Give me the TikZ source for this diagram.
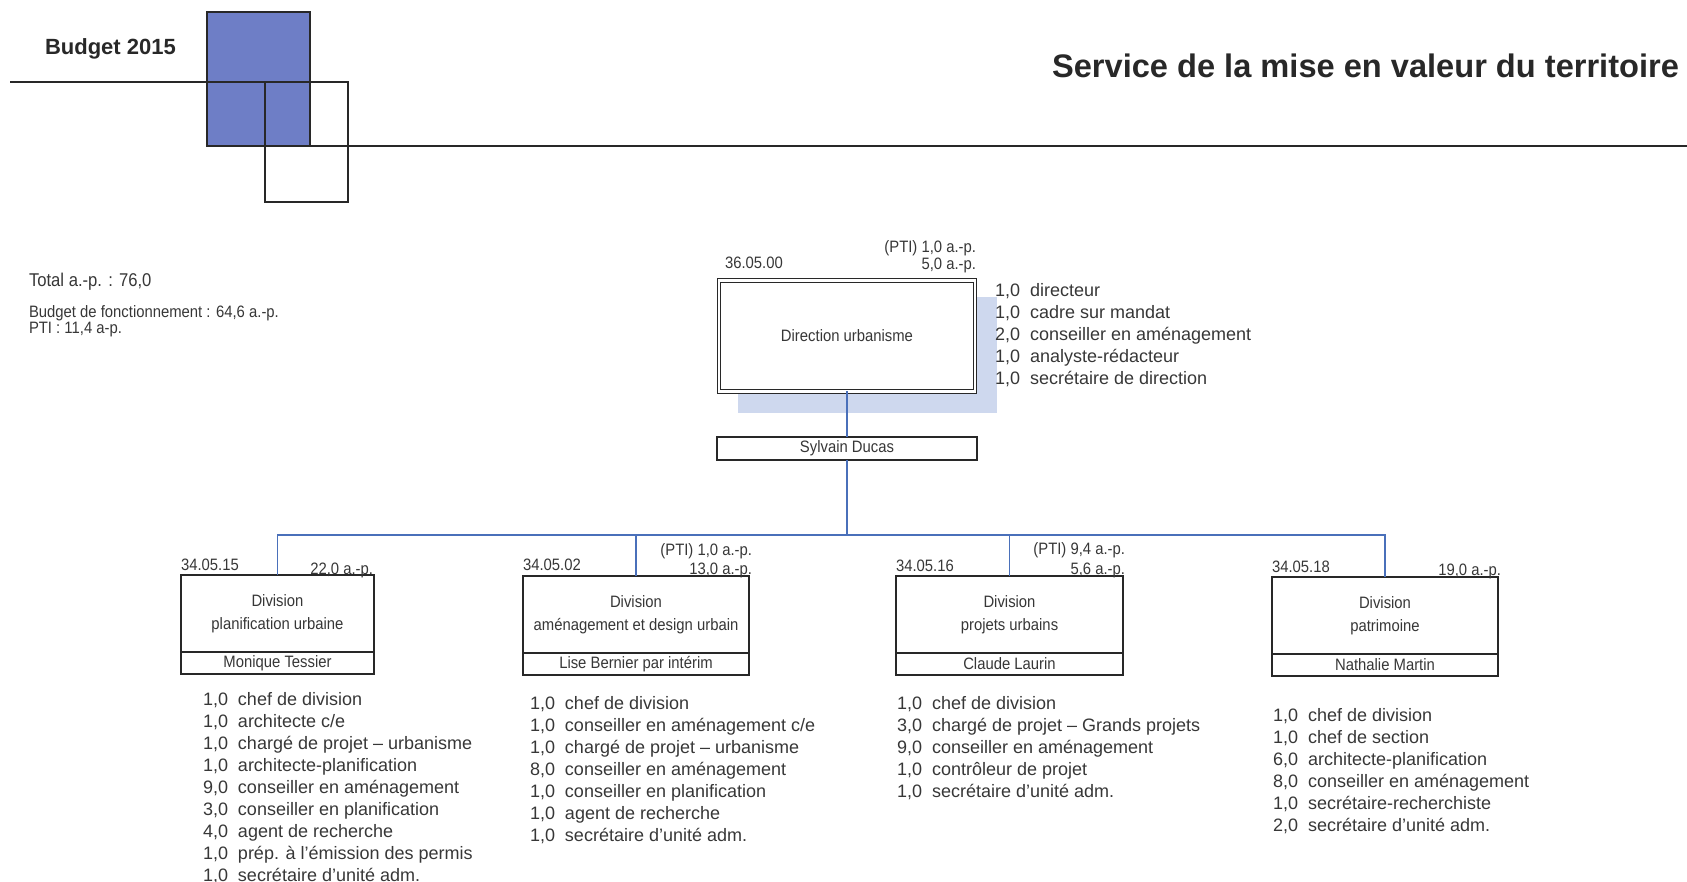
\documentclass[tikz,border=0pt]{standalone}
\usepackage{fontspec}
\setmainfont{Liberation Sans}
\newfontfamily\narrowfont[FakeStretch=0.9]{Liberation Sans}
\definecolor{hdrblue}{RGB}{110,126,198}
\definecolor{connblue}{RGB}{74,112,186}
\definecolor{shadowblue}{RGB}{206,216,238}
\definecolor{boxline}{RGB}{40,40,40}
\definecolor{txt}{RGB}{55,55,55}
\newcommand\nb[1]{\makebox[35pt][l]{#1}}
\begin{document}
\begin{tikzpicture}[x=1pt,y=-1pt,
  every node/.style={inner sep=0pt, outer sep=0pt},
  hdrline/.style={draw=boxline, line width=1.6pt},
  conn/.style={draw=connblue, line width=1.4pt},
  dirbox/.style={draw=boxline, line width=1.2pt, double=white, double distance=2.2pt, fill=white,
    minimum width=256, minimum height=111, font=\narrowfont\fontsize{16.5}{20}\selectfont, text=txt},
  namebox/.style={draw=boxline, line width=1.4pt, fill=white, font=\narrowfont\fontsize{16.5}{20}\selectfont, text=txt},
  divbox/.style={draw=boxline, line width=1.4pt, fill=white, minimum height=77, align=center,
    font=\narrowfont\fontsize{16.5}{23}\selectfont, text=txt},
  code/.style={font=\narrowfont\fontsize{16.5}{19}\selectfont, text=txt},
  stafflist/.style={anchor=base west, font=\fontsize{18}{22}\selectfont, text=txt}]
\useasboundingbox (0,0) rectangle (1687,882);

% header decoration
\fill[hdrblue] (207,12) rectangle (310,146);
\draw[hdrline] (207,12) rectangle (310,146);
\draw[hdrline] (265,82) rectangle (348,202);
\draw[hdrline] (10,82) -- (265,82);
\draw[hdrline] (310,146) -- (1687,146);
\node[anchor=base west, font=\bfseries\fontsize{22}{26}\selectfont, text=boxline] (budget) at (45,55) {Budget 2015};
\node[anchor=base east, font=\bfseries\fontsize{32.6}{38}\selectfont, text=boxline] (title) at (1679,78) {Service de la mise en valeur du territoire};

% summary
\node[anchor=base west, font=\narrowfont\fontsize{18.5}{22}\selectfont, text=txt] (tot) at (29,287) {Total a.-p. : 76,0};
\node[anchor=base west, code] (bf) at (29,318) {Budget de fonctionnement : 64,6 a.-p.};
\node[anchor=base west, code] (pti) at (29,334) {PTI : 11,4 a-p.};

% direction
\fill[shadowblue] (738,297) rectangle (997,413);
\node[dirbox] (dir) at (847,336) {Direction urbanisme};
\node[namebox, minimum width=260, minimum height=23] (sylvain) at (847,448.5) {Sylvain Ducas};
\node[code, anchor=base west] (c0) at (725,269) {36.05.00};
\node[code, anchor=base east] (p0) at (976,253) {(PTI) 1,0 a.-p.};
\node[code, anchor=base east] (a0) at (976,269.5) {5,0 a.-p.};
\node[stafflist] (ldir) at (995,296.5) {\begin{tabular}[t]{@{}l@{}}
\nb{1,0}directeur\\
\nb{1,0}cadre sur mandat\\
\nb{2,0}conseiller en aménagement\\
\nb{1,0}analyste-rédacteur\\
\nb{1,0}secrétaire de direction
\end{tabular}};

% divisions
\node[divbox, minimum width=193] (d1) at (277.5,613.5) {Division\\planification urbaine};
\node[namebox, minimum width=193, minimum height=22, anchor=north] (n1) at (d1.south) {Monique Tessier};
\node[divbox, minimum width=226] (d2) at (636,614.5) {Division\\aménagement et design urbain};
\node[namebox, minimum width=226, minimum height=22, anchor=north] (n2) at (d2.south) {Lise Bernier par intérim};
\node[divbox, minimum width=227] (d3) at (1009.5,614.5) {Division\\projets urbains};
\node[namebox, minimum width=227, minimum height=22, anchor=north] (n3) at (d3.south) {Claude Laurin};
\node[divbox, minimum width=226] (d4) at (1385,615.5) {Division\\patrimoine};
\node[namebox, minimum width=226, minimum height=22, anchor=north] (n4) at (d4.south) {Nathalie Martin};

% connectors
\coordinate (bus) at (847,535);
\draw[conn] (dir.south) -- (sylvain.north);
\draw[conn] (sylvain.south) -- (bus);
\draw[conn] (d1.north) |- (bus) -| (d4.north);
\draw[conn] (d2.north) -- (d2.north |- bus);
\draw[conn] (d3.north) -- (d3.north |- bus);

% division labels
\node[code, anchor=base west] (c1) at (181,570) {34.05.15};
\node[code, anchor=base east] (a1) at (373,574) {22,0 a.-p.};
\node[code, anchor=base west] (c2) at (523,570) {34.05.02};
\node[code, anchor=base east] (p2) at (752,555) {(PTI) 1,0 a.-p.};
\node[code, anchor=base east] (a2) at (752,574.5) {13,0 a.-p.};
\node[code, anchor=base west] (c3) at (896,571) {34.05.16};
\node[code, anchor=base east] (p3) at (1125,554) {(PTI) 9,4 a.-p.};
\node[code, anchor=base east] (a3) at (1125,574.5) {5,6 a.-p.};
\node[code, anchor=base west] (c4) at (1272,572) {34.05.18};
\node[code, anchor=base east] (a4) at (1501,575) {19,0 a.-p.};

% staff lists
\node[stafflist] (l1) at (203,705) {\begin{tabular}[t]{@{}l@{}}
\nb{1,0}chef de division\\
\nb{1,0}architecte c/e\\
\nb{1,0}chargé de projet – urbanisme\\
\nb{1,0}architecte-planification\\
\nb{9,0}conseiller en aménagement\\
\nb{3,0}conseiller en planification\\
\nb{4,0}agent de recherche\\
\nb{1,0}prép. à l'émission des permis\\
\nb{1,0}secrétaire d'unité adm.
\end{tabular}};
\node[stafflist] (l2) at (530,709) {\begin{tabular}[t]{@{}l@{}}
\nb{1,0}chef de division\\
\nb{1,0}conseiller en aménagement c/e\\
\nb{1,0}chargé de projet – urbanisme\\
\nb{8,0}conseiller en aménagement\\
\nb{1,0}conseiller en planification\\
\nb{1,0}agent de recherche\\
\nb{1,0}secrétaire d'unité adm.
\end{tabular}};
\node[stafflist] (l3) at (897,709) {\begin{tabular}[t]{@{}l@{}}
\nb{1,0}chef de division\\
\nb{3,0}chargé de projet – Grands projets\\
\nb{9,0}conseiller en aménagement\\
\nb{1,0}contrôleur de projet\\
\nb{1,0}secrétaire d'unité adm.
\end{tabular}};
\node[stafflist] (l4) at (1273,721) {\begin{tabular}[t]{@{}l@{}}
\nb{1,0}chef de division\\
\nb{1,0}chef de section\\
\nb{6,0}architecte-planification\\
\nb{8,0}conseiller en aménagement\\
\nb{1,0}secrétaire-recherchiste\\
\nb{2,0}secrétaire d'unité adm.
\end{tabular}};
\end{tikzpicture}
\end{document}
